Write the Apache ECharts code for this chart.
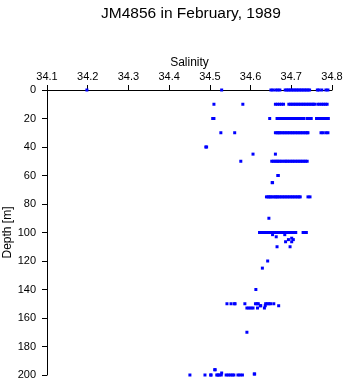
<!DOCTYPE html>
<html>
<head>
<meta charset="utf-8">
<script src="https://cdn.jsdelivr.net/npm/echarts@6/dist/echarts.min.js"></script>
<style>
html,body{margin:0;padding:0;background:#fff;}
#chart{width:346px;height:384px;}
</style>
</head>
<body>
<div id="chart"></div>
<script>
// Salinity readings grouped by depth [m]
const sal_0 = [34.198, 34.529, 34.650, 34.655, 34.662, 34.667, 34.672, 34.685, 34.689, 34.693, 34.697, 34.701, 34.705, 34.709, 34.713, 34.717, 34.721, 34.725, 34.729, 34.733, 34.737, 34.741, 34.745, 34.764, 34.768, 34.775, 34.785, 34.790];
const sal_10 = [34.510, 34.581, 34.661, 34.666, 34.671, 34.676, 34.681, 34.694, 34.698, 34.702, 34.706, 34.710, 34.714, 34.718, 34.722, 34.726, 34.730, 34.734, 34.738, 34.742, 34.746, 34.750, 34.754, 34.757, 34.765, 34.770, 34.775, 34.779, 34.784, 34.788];
const sal_20 = [34.507, 34.510, 34.647, 34.665, 34.670, 34.675, 34.679, 34.684, 34.688, 34.692, 34.696, 34.700, 34.704, 34.708, 34.712, 34.716, 34.720, 34.724, 34.728, 34.731, 34.739, 34.744, 34.749, 34.762, 34.768, 34.772, 34.776, 34.780, 34.784, 34.788, 34.791];
const sal_30 = [34.527, 34.561, 34.661, 34.665, 34.668, 34.671, 34.675, 34.679, 34.683, 34.687, 34.691, 34.695, 34.699, 34.703, 34.707, 34.711, 34.715, 34.719, 34.723, 34.727, 34.731, 34.735, 34.739, 34.741, 34.773, 34.778, 34.785, 34.790];
const sal_40 = [34.490, 34.492];
const sal_45 = [34.606, 34.661];
const sal_50 = [34.576, 34.652, 34.656, 34.660, 34.664, 34.667, 34.671, 34.675, 34.679, 34.684, 34.687, 34.691, 34.695, 34.699, 34.703, 34.707, 34.711, 34.715, 34.719, 34.723, 34.727, 34.731, 34.735, 34.739];
const sal_60 = [34.667, 34.668];
const sal_65 = [34.653, 34.654];
const sal_75 = [34.639, 34.643, 34.646, 34.649, 34.653, 34.657, 34.661, 34.664, 34.667, 34.671, 34.675, 34.679, 34.683, 34.687, 34.691, 34.695, 34.699, 34.703, 34.707, 34.711, 34.715, 34.719, 34.722, 34.741, 34.746];
const sal_90 = [34.645];
const sal_100 = [34.622, 34.626, 34.630, 34.634, 34.638, 34.644, 34.648, 34.652, 34.656, 34.660, 34.664, 34.668, 34.671, 34.676, 34.680, 34.684, 34.689, 34.693, 34.697, 34.701, 34.705, 34.709, 34.711, 34.729, 34.733, 34.737];
const sal_101 = [34.654, 34.684];
const sal_103 = [34.663];
const sal_104 = [34.701];
const sal_105 = [34.693, 34.705];
const sal_106 = [34.686, 34.701];
const sal_110 = [34.665, 34.697];
const sal_120 = [34.642];
const sal_125 = [34.629];
const sal_140 = [34.613];
const sal_150 = [34.542, 34.552, 34.560, 34.562, 34.586, 34.612, 34.616, 34.619, 34.637, 34.641, 34.645, 34.649, 34.657];
const sal_151 = [34.624, 34.625, 34.636, 34.669];
const sal_153 = [34.591, 34.596, 34.601, 34.606, 34.617, 34.634];
const sal_170 = [34.591];
const sal_196 = [34.512, 34.513];
const sal_198 = [34.529];
const sal_199 = [34.609, 34.610];
const sal_200 = [34.451, 34.488, 34.502, 34.503, 34.517, 34.520, 34.523, 34.528, 34.540, 34.545, 34.550, 34.555, 34.559, 34.569, 34.574, 34.580];

const depthGroups = [
  [0, sal_0], [10, sal_10], [20, sal_20], [30, sal_30], [40, sal_40], [45, sal_45],
  [50, sal_50], [60, sal_60], [65, sal_65], [75, sal_75], [90, sal_90], [100, sal_100],
  [101.5, sal_101], [103, sal_103], [104, sal_104], [105, sal_105], [106.5, sal_106],
  [110, sal_110], [120, sal_120], [125, sal_125], [140, sal_140], [150, sal_150],
  [151.4, sal_151], [153, sal_153], [170, sal_170], [196.3, sal_196], [198.6, sal_198],
  [199.3, sal_199], [200, sal_200]
];

const titleText = 'JM4856 in February, 1989';
const xName = 'Salinity';
const yName = 'Depth [m]';
const xMin = 34.1, xMax = 34.8, xStep = 0.1;
const yMin = 0, yMax = 200, yStep = 20;

const points = [];
depthGroups.forEach(function (g) {
  g[1].forEach(function (s) { points.push([s, g[0]]); });
});

const chart = echarts.init(document.getElementById('chart'), null, {renderer: 'canvas'});
const font = 'Liberation Sans, Arial, Helvetica, sans-serif';
chart.setOption({
  animation: false,
  backgroundColor: '#ffffff',
  title: {
    text: titleText,
    left: 96,
    top: 1,
    textStyle: {fontFamily: font, fontSize: 15.5, fontWeight: 'normal', color: '#000'}
  },
  grid: {left: 47, right: 14, top: 90, bottom: 9, containLabel: false, outerBoundsMode: 'none'},
  xAxis: {
    type: 'value',
    position: 'top',
    min: xMin, max: xMax, interval: xStep,
    name: xName,
    nameLocation: 'middle',
    nameGap: 21,
    nameMoveOverlap: false,
    nameTextStyle: {fontFamily: font, fontSize: 12, color: '#000'},
    axisLine: {show: true, onZero: false, lineStyle: {color: '#000', width: 1}},
    axisTick: {show: true, inside: false, length: 5, lineStyle: {color: '#000'}},
    axisLabel: {
      show: true, margin: 8, color: '#000', fontFamily: font, fontSize: 11,
      showMinLabel: true, showMaxLabel: true,
      formatter: function (v) { return v.toFixed(1); }
    },
    splitLine: {show: false}
  },
  yAxis: {
    type: 'value',
    inverse: true,
    min: yMin, max: yMax, interval: yStep,
    name: yName,
    nameLocation: 'middle',
    nameGap: 33,
    nameMoveOverlap: false,
    nameTextStyle: {fontFamily: font, fontSize: 12, color: '#000'},
    axisLine: {show: true, onZero: false, lineStyle: {color: '#000', width: 1}},
    axisTick: {show: true, inside: false, length: 5, lineStyle: {color: '#000'}},
    axisLabel: {show: true, margin: 11, color: '#000', fontFamily: font, fontSize: 11,
      showMinLabel: true, showMaxLabel: true},
    splitLine: {show: false}
  },
  series: [{
    type: 'scatter',
    data: points,
    symbol: 'rect',
    symbolSize: 3,
    itemStyle: {color: '#0000ff', opacity: 1},
    clip: false
  }]
});
</script>
</body>
</html>
